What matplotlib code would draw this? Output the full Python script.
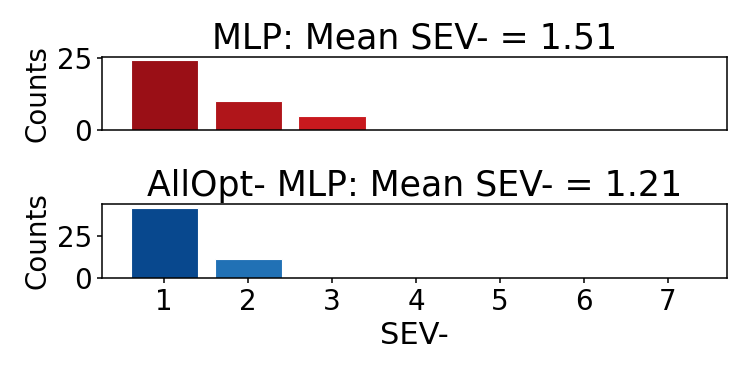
import numpy as np
import matplotlib
matplotlib.use('Agg')
import matplotlib.pyplot as plt

sev_bins = [1, 2, 3, 4, 5, 6, 7]
mlp_counts = [24, 10, 5, 0, 0, 0, 0]
allopt_counts = [42, 11, 0, 0, 0, 0, 0]
mlp_colors = ['#9a0f16', '#b0151a', '#c8191e', '#d7301f', '#e34a33', '#ef6548', '#fc8d59']
allopt_colors = ['#08488e', '#2171b5', '#4292c6', '#6baed6', '#9ecae1', '#c6dbef', '#deebf7']
mlp_title = 'MLP: Mean SEV- = 1.51'
allopt_title = 'AllOpt- MLP: Mean SEV- = 1.21'

plt.rcParams['axes.linewidth'] = 1.1
plt.rcParams['xtick.major.width'] = 1.1
plt.rcParams['ytick.major.width'] = 1.1

fig = plt.figure(figsize=(7.5, 3.75), dpi=100)
ax1 = fig.add_axes([0.136, 0.653, 0.833, 0.195])
ax2 = fig.add_axes([0.136, 0.259, 0.833, 0.197])

ax1.bar(sev_bins, mlp_counts, width=0.8, color=mlp_colors, edgecolor='white', linewidth=0.8)
ax2.bar(sev_bins, allopt_counts, width=0.8, color=allopt_colors, edgecolor='white', linewidth=0.8)

for ax in (ax1, ax2):
    ax.set_xlim(0.26, 7.70)
    ax.set_ylabel('Counts', fontsize=20)
    ax.tick_params(labelsize=20)
    ax.set_yticks([0, 25])

ax1.set_xticks([])
ax1.set_title(mlp_title, fontsize=25)
ax2.set_title(allopt_title, fontsize=25)
ax2.set_xticks(sev_bins)
ax2.set_xlabel('SEV-', fontsize=22)

fig.savefig('out.png')
